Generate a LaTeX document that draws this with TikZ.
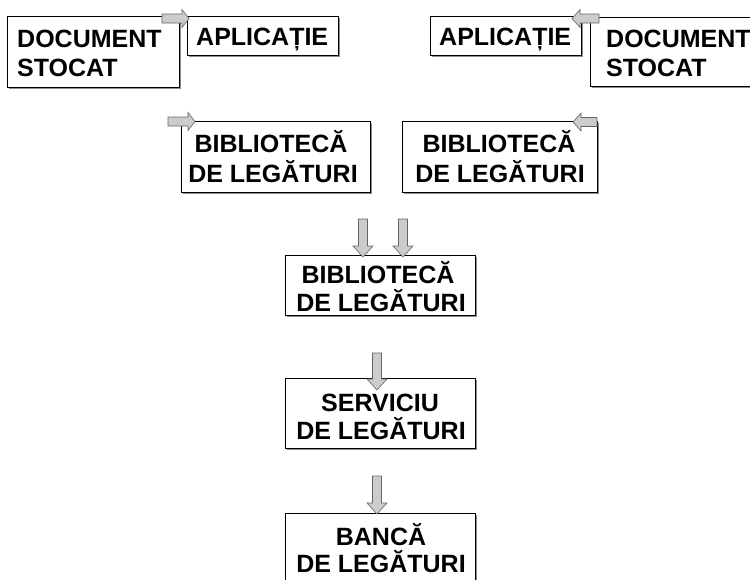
\documentclass[tikz,border=0pt]{standalone}
\usepackage{fontspec}
\setmainfont{Liberation Sans}
\usetikzlibrary{shadows}
\tikzset{
  box/.style={draw=black, line width=0.8pt, fill=white, inner sep=0pt, anchor=north west,
    drop shadow={shadow xshift=1.2pt, shadow yshift=-1.2pt, fill=black!45, opacity=1}},
  lbl/.style={font=\bfseries\fontsize{25}{30}\selectfont, inner sep=0pt},
  blk/.style={fill=black!20, draw=black!60, line width=0.6pt, line join=miter},
}
\newcommand\myRArrow[3]{% tail x, tip x, centre y
  \draw[blk] (#1,#3-4.5) -- (#2-7,#3-4.5) -- (#2-7,#3-9) -- (#2,#3) -- (#2-7,#3+9) -- (#2-7,#3+4.5) -- (#1,#3+4.5) -- cycle;}
\newcommand\myLArrow[3]{% tip x, tail x, centre y
  \draw[blk] (#1,#3) -- (#1+8,#3-9) -- (#1+8,#3-4.5) -- (#2,#3-4.5) -- (#2,#3+4.5) -- (#1+8,#3+4.5) -- (#1+8,#3+9) -- cycle;}
\newcommand\myDArrow[3]{% centre x, top y, tip y
  \draw[blk] (#1-4.5,#2) -- (#1+4.5,#2) -- (#1+4.5,#3-11) -- (#1+10,#3-11) -- (#1,#3) -- (#1-10,#3-11) -- (#1-4.5,#3-11) -- cycle;}
\begin{document}
\begin{tikzpicture}[x=1pt,y=-1pt]
\useasboundingbox (0,0) rectangle (750,579);
\clip (0,0) rectangle (750,579);
\fill[white] (0,0) rectangle (750,579);

% boxes
\node[box, minimum width=172pt, minimum height=71pt] (docL) at (7,16) {};
\node[box, minimum width=151pt, minimum height=39pt] (appL) at (187,16) {};
\node[box, minimum width=151pt, minimum height=39pt] (appR) at (430,16) {};
\node[box, minimum width=200pt, minimum height=69pt] (docR) at (590,17) {};
\node[box, minimum width=189pt, minimum height=71pt] (bibL) at (181,121) {};
\node[box, minimum width=195pt, minimum height=71pt] (bibR) at (402,121) {};
\node[box, minimum width=190pt, minimum height=60pt] (bibM) at (285,255) {};
\node[box, minimum width=190pt, minimum height=70pt] (serv) at (285,378) {};
\node[box, minimum width=190pt, minimum height=100pt] (banc) at (285,513) {};

% texts
\node[lbl, anchor=base west] (docLa) at (17,47) {DOCUMENT};
\node[lbl, anchor=base west] (docLb) at (17,76) {STOCAT};
\node[lbl, anchor=base west] (appLt) at (196,45) {APLICAȚIE};
\node[lbl, anchor=base west] (appRt) at (439,45) {APLICAȚIE};
\node[lbl, anchor=base west] (docRa) at (606,47) {DOCUMENT};
\node[lbl, anchor=base west] (docRb) at (606,76) {STOCAT};
\node[lbl, anchor=base] (bibLa) at (271,152) {BIBLIOTECĂ};
\node[lbl, anchor=base] (bibLb) at (273,182) {DE LEGĂTURI};
\node[lbl, anchor=base] (bibRa) at (499,152) {BIBLIOTECĂ};
\node[lbl, anchor=base] (bibRb) at (500,182) {DE LEGĂTURI};
\node[lbl, anchor=base] (bibMa) at (378,283) {BIBLIOTECĂ};
\node[lbl, anchor=base] (bibMb) at (381,311) {DE LEGĂTURI};
\node[lbl, anchor=base] (serva) at (380,411) {SERVICIU};
\node[lbl, anchor=base] (servb) at (381,439) {DE LEGĂTURI};
\node[lbl, anchor=base] (banca) at (381,545) {BANCĂ};
\node[lbl, anchor=base] (bancb) at (381,572) {DE LEGĂTURI};

% block arrows
\myRArrow{162}{189}{18.5}
\myLArrow{572}{599}{18.5}
\myRArrow{168}{195}{121.5}
\myLArrow{573}{597}{122}
\myDArrow{363}{219}{257}
\myDArrow{403}{219}{257}
\myDArrow{377}{353}{390}
\myDArrow{377}{476}{514}
\end{tikzpicture}
\end{document}
